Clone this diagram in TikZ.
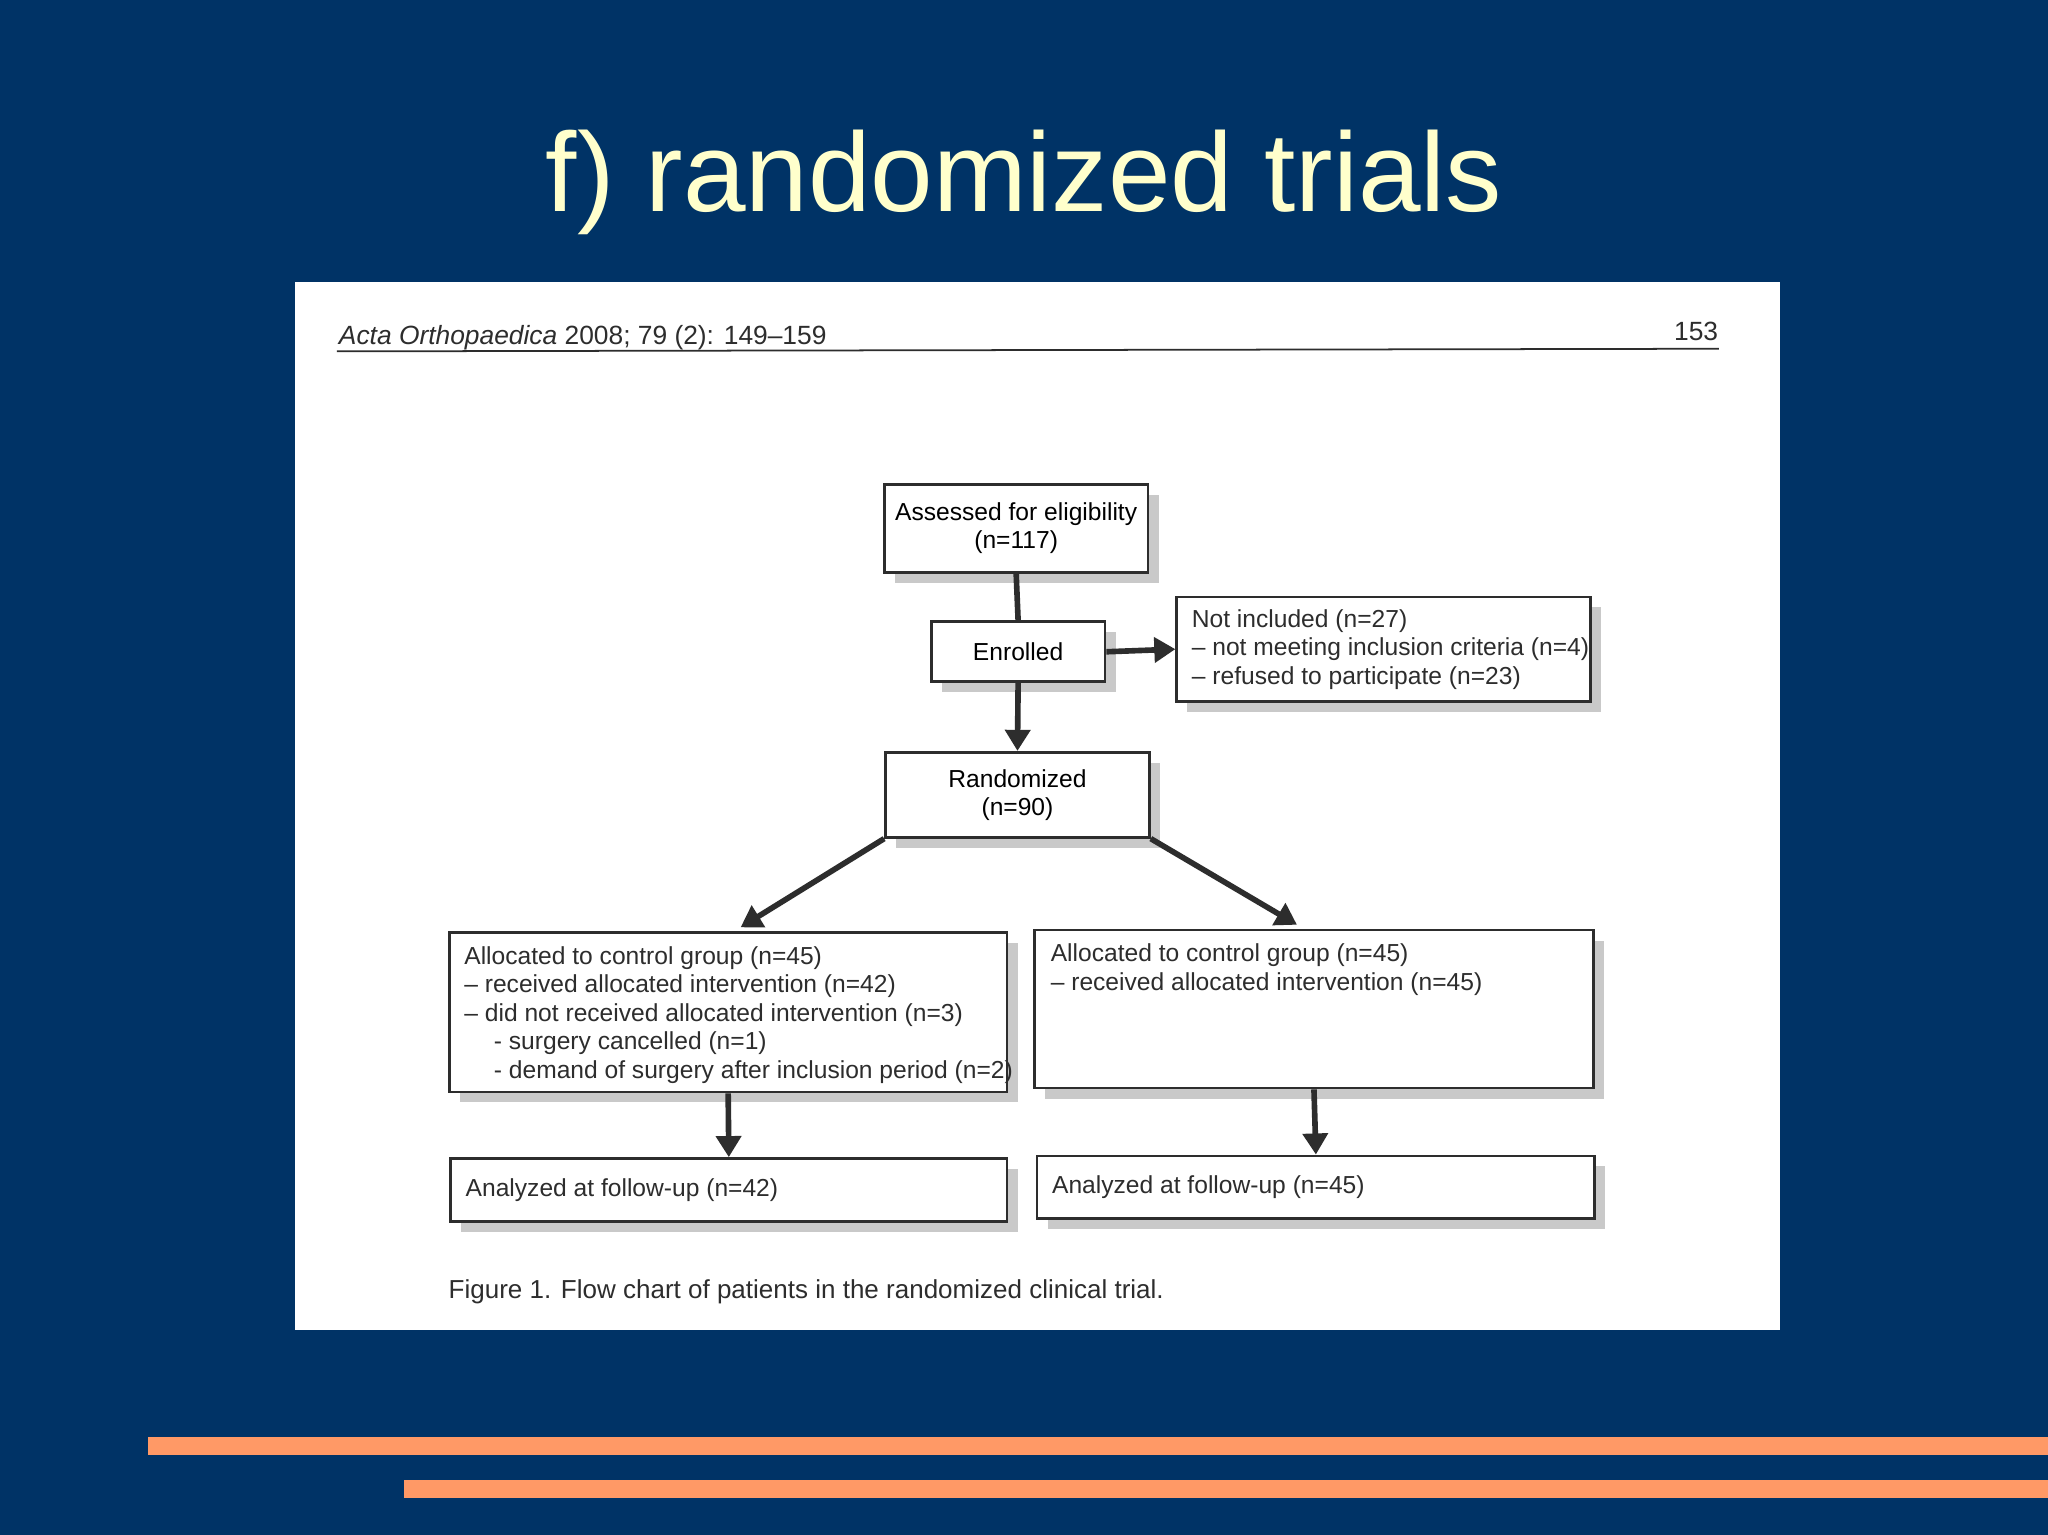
\documentclass[tikz,border=0pt]{standalone}
\usepackage{fontspec}
\setmainfont{Liberation Sans}
\usetikzlibrary{arrows.meta,shadows}
\definecolor{navy}{RGB}{0,51,102}
\definecolor{titleyel}{RGB}{255,255,204}
\definecolor{stripe}{RGB}{255,153,102}
\definecolor{ink}{RGB}{45,45,45}
\newcommand{\uu}{0.013061}
\begin{document}
\begin{tikzpicture}[x=\uu cm,y=-\uu cm,
  boxst/.style={draw=ink,line width=0.8pt,fill=white,inner sep=0pt,
    drop shadow={shadow xshift=3pt,shadow yshift=-3pt,fill=black!35,opacity=0.6},
    font=\fontsize{7}{8}\selectfont,align=center},
  txt/.style={font=\fontsize{7}{8.1}\selectfont,align=left,inner sep=0pt,anchor=north west,text=ink},
  arr/.style={draw=ink,line width=1.6pt,-{Triangle[width=7pt,length=6pt]}},
  ln/.style={draw=ink,line width=1.6pt}]
\useasboundingbox (0,0) rectangle (1568,1175.2);
\fill[navy] (0,0) rectangle (1568,1175.2);
\node[text=titleyel,font=\fontsize{32}{36}\selectfont] (title) at (784,140) {f) randomized trials};
\fill[white] (226,216) rectangle (1363,1018);
\node[anchor=base west,inner sep=0pt,text=ink,font=\fontsize{7.5}{9}\selectfont] (hdr) at (259,264) {\textit{Acta Orthopaedica} 2008; 79 (2): 149--159};
\node[anchor=base east,inner sep=0pt,text=ink,font=\fontsize{7.5}{9}\selectfont] (pg) at (1316,261) {153};
\draw[ink,line width=0.5pt] (258,269) -- (1316,267);
% boxes
\node[boxst,minimum width=202*\uu cm,minimum height=67*\uu cm] (A) at (778,404.5) {Assessed for eligibility\\(n=117)};
\node[boxst,minimum width=133*\uu cm,minimum height=46*\uu cm] (E) at (779.5,499) {Enrolled};
\node[boxst,minimum width=317*\uu cm,minimum height=80*\uu cm] (N) at (1059.5,497) {};
\node[txt] (Nt) at (912,466) {Not included (n=27)\\-- not meeting inclusion criteria (n=4)\\-- refused to participate (n=23)};
\node[boxst,minimum width=202*\uu cm,minimum height=65*\uu cm] (R) at (779,608.5) {Randomized\\(n=90)};
\node[boxst,minimum width=427*\uu cm,minimum height=122*\uu cm] (L) at (557.5,775) {};
\node[txt] (Lt) at (355,724) {Allocated to control group (n=45)\\-- received allocated intervention (n=42)\\-- did not received allocated intervention (n=3)\\\hspace{1.2em}- surgery cancelled (n=1)\\\hspace{1.2em}- demand of surgery after inclusion period (n=2)};
\node[boxst,minimum width=428*\uu cm,minimum height=121*\uu cm] (Rr) at (1006,772.5) {};
\node[txt] (Rt) at (804,722) {Allocated to control group (n=45)\\-- received allocated intervention (n=45)};
\node[boxst,minimum width=426*\uu cm,minimum height=48*\uu cm] (LA) at (558,911) {};
\node[txt,anchor=west] (LAt) at (356,911) {Analyzed at follow-up (n=42)};
\node[boxst,minimum width=427*\uu cm,minimum height=48*\uu cm] (RA) at (1007.5,909) {};
\node[txt,anchor=west] (RAt) at (805,909) {Analyzed at follow-up (n=45)};
\node[anchor=base west,inner sep=0pt,text=ink,font=\fontsize{7.4}{9}\selectfont] (cap) at (343,994) {Figure 1. Flow chart of patients in the randomized clinical trial.};
% connectors
\draw[ln] (A.south) -- (E.north);
\draw[arr] (E.south) -- (R.north);
\draw[arr] (E.east) -- (N.west);
\draw[arr] (R.south west) -- (567,710);
\draw[arr] (R.south east) -- (993,708);
\draw[arr] (L.south) -- (LA.north);
\draw[arr] (Rr.south) -- (RA.north);
% stripes
\fill[stripe] (113,1100) rectangle (1568,1114);
\fill[stripe] (309,1133) rectangle (1568,1147);
\end{tikzpicture}
\end{document}
